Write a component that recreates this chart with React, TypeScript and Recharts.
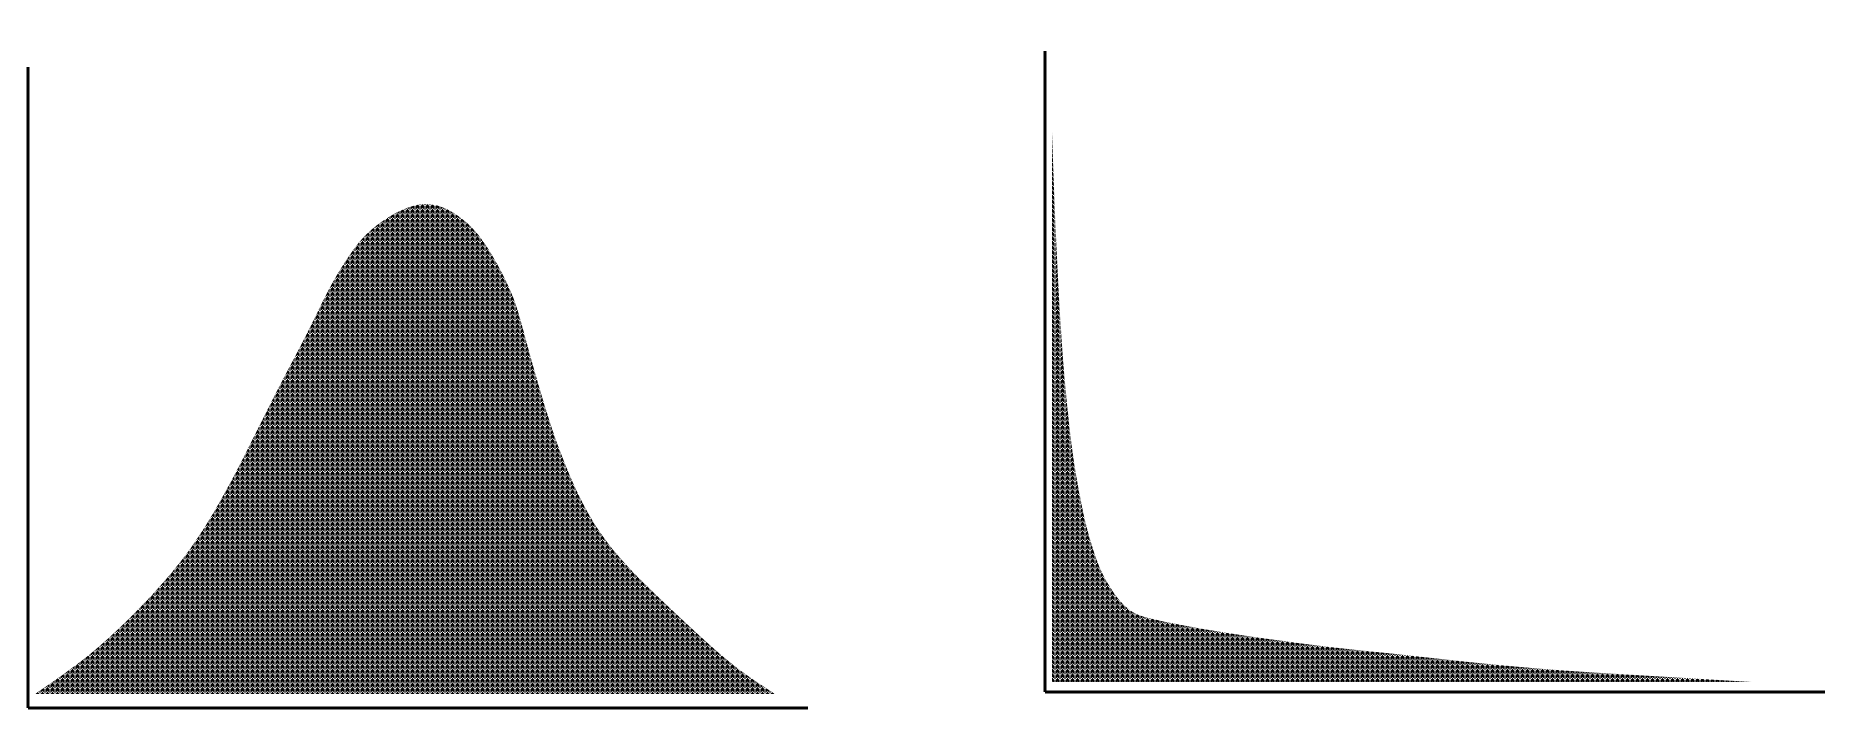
import React from "react";
import { AreaChart, Area, XAxis, YAxis } from "recharts";

// Left chart: bell-shaped distribution (x position, density value)
const leftX = [0, 7.0, 12.8, 18.2, 22.7, 27.3, 31.8, 36.8, 39.9, 43.0, 46.6, 52.7, 58.4, 61.9, 64.6, 66.5, 68.9, 70.9, 73.4, 76.4, 79.7, 83.8, 88.5, 94.2, 100];
const leftY = [0, 7.6, 15.5, 24.3, 33.5, 45.7, 59.2, 73.7, 83.1, 90.6, 96.1, 100, 96.1, 89.2, 81.0, 71.4, 58.8, 49.8, 40.8, 32.9, 26.7, 20.4, 13.7, 6.1, 0];

// Right chart: long-tail distribution
const rightX = [0, 0.57, 1.29, 2.29, 4.0, 6.14, 8.57, 11.1, 14.9, 18.3, 35.1, 52.0, 68.9, 85.7, 100];
const rightY = [100, 81.1, 64.0, 48.9, 33.8, 23.1, 16.7, 13.1, 11.3, 10.4, 7.1, 4.7, 2.5, 1.1, 0];

const leftData = leftX.map((x, i) => ({ x, y: leftY[i] }));
const rightData = rightX.map((x, i) => ({ x, y: rightY[i] }));

const Pattern = ({ id }: { id: string }) => (
  <defs>
    <pattern id={id} patternUnits="userSpaceOnUse" width="5" height="4.6">
      <rect x="0" y="0" width="5" height="4.6" fill="#000" />
      <path d="M0,3.8 L2.5,1.3 L5,3.8" stroke="#fff" strokeWidth="0.9" fill="none" />
      <path d="M0,-0.8 L2.5,-3.3 L5,-0.8" stroke="#fff" strokeWidth="0.9" fill="none" />
      <path d="M0,8.4 L2.5,5.9 L5,8.4" stroke="#fff" strokeWidth="0.9" fill="none" />
      <line x1="0" y1="0" x2="0" y2="4.6" stroke="#fff" strokeWidth="0.7" />
      <line x1="5" y1="0" x2="5" y2="4.6" stroke="#fff" strokeWidth="0.7" />
    </pattern>
  </defs>
);

export default function App() {
  return (
    <div style={{ position: "absolute", left: 0, top: 0, width: 1850, height: 735, background: "#fff" }}>
      <div style={{ position: "absolute", left: 0, top: 0 }}>
        <AreaChart width={830} height={735} data={leftData} margin={{ top: 67, right: 22, bottom: 17, left: 18 }}>
          <Pattern id="herringL" />
          <XAxis dataKey="x" type="number" domain={[-0.946, 104.46]} tick={false} tickLine={false} height={10} axisLine={{ stroke: "#000", strokeWidth: 3 }} />
          <YAxis type="number" domain={[-2.857, 127.96]} tick={false} tickLine={false} width={10} axisLine={{ stroke: "#000", strokeWidth: 3 }} />
          <Area type="natural" dataKey="y" stroke="none" fill="url(#herringL)" fillOpacity={1} isAnimationActive={false} />
        </AreaChart>
      </div>
      <div style={{ position: "absolute", left: 1000, top: 0 }}>
        <AreaChart width={850} height={735} data={rightData} margin={{ top: 51, right: 25, bottom: 33, left: 35 }}>
          <Pattern id="herringR" />
          <XAxis dataKey="x" type="number" domain={[-1.0, 110.43]} tick={false} tickLine={false} height={10} axisLine={{ stroke: "#000", strokeWidth: 3 }} />
          <YAxis type="number" domain={[-1.82, 114.7]} tick={false} tickLine={false} width={10} axisLine={{ stroke: "#000", strokeWidth: 3 }} />
          <Area type="monotone" dataKey="y" stroke="none" fill="url(#herringR)" fillOpacity={1} isAnimationActive={false} />
        </AreaChart>
      </div>
    </div>
  );
}
